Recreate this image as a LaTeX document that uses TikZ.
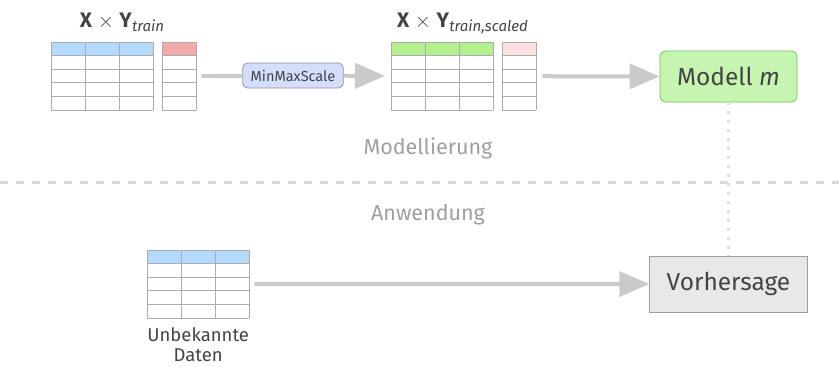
\documentclass[tikz,border=0pt]{standalone}
\usepackage{fontspec}
\setmainfont{Fira Sans}
\usetikzlibrary{arrows.meta,positioning}

\definecolor{kopfblau}{HTML}{B3D9FF}
\definecolor{kopfrot}{HTML}{F5AAAA}
\definecolor{kopfgruen}{HTML}{B2F08E}
\definecolor{kopfrosa}{HTML}{FAE0E0}
\definecolor{textgrau}{HTML}{444444}
\definecolor{pfeilgrau}{HTML}{CACACA}
\definecolor{mmsblau}{HTML}{D3DEFB}
\definecolor{mmsrand}{HTML}{8C93A8}
\definecolor{modellgruen}{HTML}{C5F5B0}
\definecolor{modellrand}{HTML}{6CCB45}

% tabelle: name, x links, y oben, spalten, kopffarbe
\newcommand{\tabelle}[5]{%
  \fill[#5] (#2,#3) rectangle ++(#4*34,13.6);
  \foreach \r in {0,...,5} \draw[gitter] (#2,#3+\r*13.6) -- ++(#4*34,0);
  \foreach \c in {0,...,#4} \draw[gitter] (#2+\c*34,#3) -- ++(0,68);
  \node[tab, minimum width=#4*34pt, anchor=north west] (#1) at (#2,#3) {};
}
\newcommand{\idx}[1]{\raisebox{-4.5pt}{\fontsize{15}{17}\selectfont\textit{#1}}}

\begin{document}
\begin{tikzpicture}[x=1pt,y=-1pt,
  gitter/.style={draw=gray!65, line width=0.7pt},
  tab/.style={inner sep=0, minimum height=68pt},
  pfeil/.style={draw=pfeilgrau, line width=4pt},
  spitze/.style={pfeil, -{Triangle[length=30pt,width=25pt]}},
  titel/.style={font=\fontsize{21}{24}\selectfont, text=textgrau, anchor=base},
  kasten/.style={rounded corners=6pt, line width=0.8pt, text=textgrau, inner xsep=17pt,
                 font=\fontsize{24.5}{28}\selectfont},
  bereich/.style={text=gray!75, font=\fontsize{21.5}{25}\selectfont}]
\useasboundingbox (0,0) rectangle (839,367);

% modellierung
\tabelle{xtrain}{51}{42}{3}{kopfblau}
\tabelle{ytrain}{162}{42}{1}{kopfrot}
\tabelle{xscaled}{391}{42}{3}{kopfgruen}
\tabelle{yscaled}{502}{42}{1}{kopfrosa}

\node[titel] (t1) at (122,27) {\textbf{X} $\times$ \textbf{Y}\idx{train}};
\node[titel] (t2) at (462.5,27) {\textbf{X} $\times$ \textbf{Y}\idx{train,scaled}};

\node[draw=mmsrand, fill=mmsblau, rounded corners=5pt, line width=0.8pt,
      text=textgrau, minimum height=25pt, inner xsep=8pt,
      font=\fontsize{14.5}{17}\selectfont] (mms) at (293,75.5) {MinMaxScale};

\node[kasten, draw=modellrand, fill=modellgruen, minimum height=51pt] (modell) at (728.5,76.5) {Modell \textit{m}};

\draw[pfeil, shorten <=5pt] (ytrain) -- (mms);
\draw[spitze, shorten >=6pt] (mms) -- (xscaled);
\draw[spitze, shorten <=6pt] (yscaled) -- (modell);

\node[bereich] (mod) at (428,148) {Modellierung};
\draw[gray!30, line width=3pt, dash pattern=on 8pt off 8pt] (0,182) -- (839,182);
\node[bereich] (anw) at (428,215) {Anwendung};

% anwendung
\tabelle{daten}{147}{250}{3}{kopfblau}
\node[below=6pt of daten, align=center, text=textgrau, font=\fontsize{18.5}{20}\selectfont] (unb) {Unbekannte\\Daten};

\node[kasten, rounded corners=0pt, draw=gray!75, fill=gray!18, minimum height=56pt] (vorhersage) at (728.5,284) {Vorhersage};

\draw[spitze, shorten <=5pt] (daten) -- (vorhersage);
\draw[gray!25, line width=3pt, dash pattern=on 3pt off 6pt] (modell) -- (vorhersage);
\end{tikzpicture}
\end{document}
